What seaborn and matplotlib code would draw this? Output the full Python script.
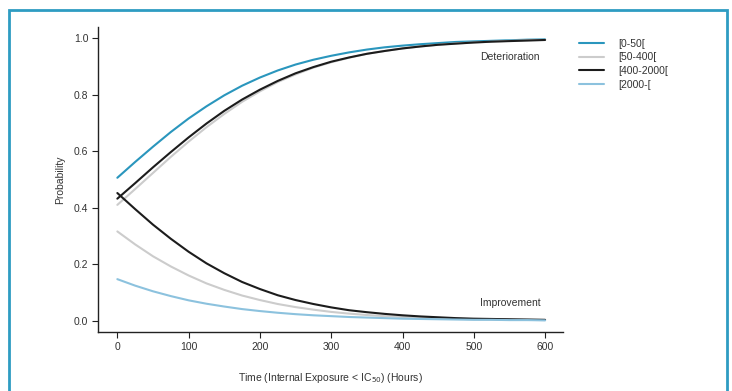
import matplotlib
matplotlib.use("Agg")
import matplotlib.pyplot as plt
from matplotlib.patches import Rectangle
import seaborn as sns
import pandas as pd

# time points (hours)
hours = [0, 25, 50, 75, 100, 125, 150, 175, 200, 225, 250, 275, 300,
         325, 350, 375, 400, 425, 450, 475, 500, 525, 550, 575, 600]

# deterioration probabilities per exposure class
det_0_50 = [0.506, 0.562, 0.616, 0.668, 0.716, 0.759, 0.798, 0.832, 0.861, 0.886, 0.907, 0.924, 0.938,
            0.950, 0.960, 0.968, 0.974, 0.979, 0.983, 0.987, 0.989, 0.991, 0.993, 0.995, 0.996]
det_50_400 = [0.410, 0.466, 0.523, 0.580, 0.634, 0.685, 0.732, 0.775, 0.812, 0.845, 0.872, 0.896, 0.915,
              0.931, 0.945, 0.955, 0.964, 0.971, 0.977, 0.982, 0.985, 0.988, 0.991, 0.993, 0.994]
det_400_2000 = [0.432, 0.487, 0.543, 0.597, 0.649, 0.698, 0.743, 0.783, 0.818, 0.849, 0.876, 0.898, 0.917,
                0.932, 0.945, 0.955, 0.964, 0.971, 0.977, 0.981, 0.985, 0.988, 0.990, 0.992, 0.994]

# improvement probabilities per exposure class
imp_50_400 = [0.316, 0.270, 0.228, 0.192, 0.160, 0.132, 0.109, 0.089, 0.073, 0.059, 0.048, 0.039, 0.031,
              0.025, 0.020, 0.016, 0.013, 0.010, 0.008, 0.007, 0.005, 0.004, 0.003, 0.003, 0.002]
imp_400_2000 = [0.452, 0.395, 0.340, 0.290, 0.244, 0.203, 0.168, 0.137, 0.112, 0.090, 0.073, 0.059, 0.047,
                0.037, 0.030, 0.024, 0.019, 0.015, 0.012, 0.009, 0.007, 0.006, 0.005, 0.004, 0.003]
imp_2000 = [0.147, 0.124, 0.104, 0.087, 0.072, 0.060, 0.050, 0.041, 0.034, 0.028, 0.023, 0.019, 0.016,
            0.013, 0.011, 0.009, 0.007, 0.006, 0.005, 0.004, 0.003, 0.003, 0.002, 0.002, 0.001]

groups = ["[0-50[", "[50-400[", "[400-2000[", "[2000-["]
colors = ["#2a96bd", "#cccccc", "#1c1c1c", "#8cc2de"]

series = [
    ("[0-50[", "Deterioration", det_0_50),
    ("[50-400[", "Deterioration", det_50_400),
    ("[400-2000[", "Deterioration", det_400_2000),
    ("[50-400[", "Improvement", imp_50_400),
    ("[400-2000[", "Improvement", imp_400_2000),
    ("[2000-[", "Improvement", imp_2000),
]


def main():
    sns.set_style("ticks")
    plt.rcParams['font.family'] = ['Liberation Sans Narrow', 'Liberation Sans', 'DejaVu Sans']
    text_color = "#333333"

    rows = []
    for grp, outcome, vals in series:
        for h, v in zip(hours, vals):
            rows.append({"Hours": h, "Probability": v, "Exposure": grp, "Outcome": outcome})
    df = pd.DataFrame(rows)

    fig = plt.figure(figsize=(7.32, 3.91), dpi=100)
    ax = fig.add_axes([0.134, 0.151, 0.635, 0.780])

    sns.lineplot(data=df, x="Hours", y="Probability", hue="Exposure", units="Outcome",
                 estimator=None, hue_order=groups, palette=dict(zip(groups, colors)),
                 linewidth=1.5, ax=ax)

    ax.set_xlim(-27, 625)
    ax.set_ylim(-0.04, 1.04)
    ax.set_xticks([0, 100, 200, 300, 400, 500, 600])
    ax.set_yticks([0.0, 0.2, 0.4, 0.6, 0.8, 1.0])
    ax.set_yticklabels(["0.0", "0.2", "0.4", "0.6", "0.8", "1.0"])
    sns.despine(ax=ax)
    for s in ["left", "bottom"]:
        ax.spines[s].set_color("#222222")
        ax.spines[s].set_linewidth(1.0)
    ax.tick_params(axis="both", length=4, width=0.8, color="#222222",
                   labelsize=7.5, labelcolor=text_color, pad=3)

    ax.set_xlabel("Time (Internal Exposure < IC$_{50}$) (Hours)", fontsize=7.5,
                  color=text_color, labelpad=14)
    ax.set_ylabel("Probability", fontsize=7.5, color=text_color, labelpad=6)

    ax.text(592, 0.934, "Deterioration", ha="right", va="center", fontsize=7.5, color=text_color)
    ax.text(594, 0.063, "Improvement", ha="right", va="center", fontsize=7.5, color=text_color)

    leg = ax.legend(loc="upper left", bbox_to_anchor=(1.02, 0.985), frameon=False,
                    fontsize=7.5, handlelength=2.4, handletextpad=1.3,
                    labelspacing=0.35, borderaxespad=0.3)
    for t in leg.get_texts():
        t.set_color(text_color)

    # teal frame around the figure
    fig.patches.append(Rectangle((9 / 732, -0.05), 718 / 732, 1.05 - 10 / 391,
                                 transform=fig.transFigure, fill=False,
                                 edgecolor="#2e9cc2", linewidth=2.0))

    plt.savefig("out.png", dpi=100)


if __name__ == "__main__":
    main()
